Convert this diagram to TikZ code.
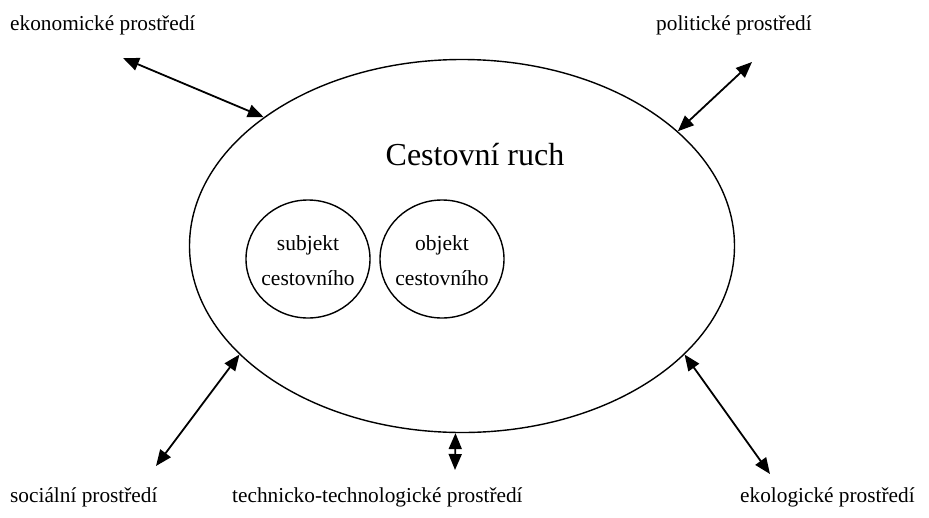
\documentclass[tikz,border=0pt]{standalone}
\usepackage{fontspec}
\setmainfont{Liberation Serif}
\usetikzlibrary{shapes.geometric,arrows.meta}
\tikzset{
  lbl/.style={inner sep=0pt, anchor=west, font=\fontsize{21.3}{24}\selectfont},
  inner/.style={inner sep=0pt, font=\fontsize{21.5}{24}\selectfont},
  oval/.style={draw, ellipse, inner sep=0pt, line width=1.4pt},
  link/.style={line width=1.8pt, {Triangle[length=16pt,width=13pt]}-{Triangle[length=16pt,width=13pt]}}
}
\begin{document}
\begin{tikzpicture}[x=1pt,y=-1pt]
\useasboundingbox (0,0) rectangle (929,517);
\node[oval, minimum width=545pt, minimum height=373pt] (cr) at (462,246) {};
\node[oval, minimum width=124pt, minimum height=118pt] (subj) at (308,259) {};
\node[oval, minimum width=124pt, minimum height=118pt] (obj) at (442,259) {};
\node[inner sep=0pt, font=\fontsize{32}{36}\selectfont] (title) at (475,155) {Cestovní ruch};
\node[inner] (s1) at (308,245) {subjekt};
\node[inner] (s2) at (308,278) {cestovního};
\node[inner] (o1) at (442,245) {objekt};
\node[inner] (o2) at (442,278) {cestovního};
\node[lbl] (eko) at (10,25) {ekonomické prostředí};
\node[lbl] (pol) at (656,25) {politické prostředí};
\node[lbl] (soc) at (10,497) {sociální prostředí};
\node[lbl] (tech) at (232,497) {technicko-technologické prostředí};
\node[lbl] (ekol) at (740,497) {ekologické prostředí};
\coordinate (ekoT) at (123,58);
\coordinate (polT) at (752,62);
\coordinate (socT) at (156,466);
\coordinate (techT) at (455,470);
\coordinate (ekolT) at (770,474);
\draw[link] (ekoT) -- (cr.147);
\draw[link] (polT) -- (cr.28);
\draw[link] (socT) -- (cr.206);
\draw[link] (techT) -- (cr.268);
\draw[link] (ekolT) -- (cr.-26.6);
\end{tikzpicture}
\end{document}
